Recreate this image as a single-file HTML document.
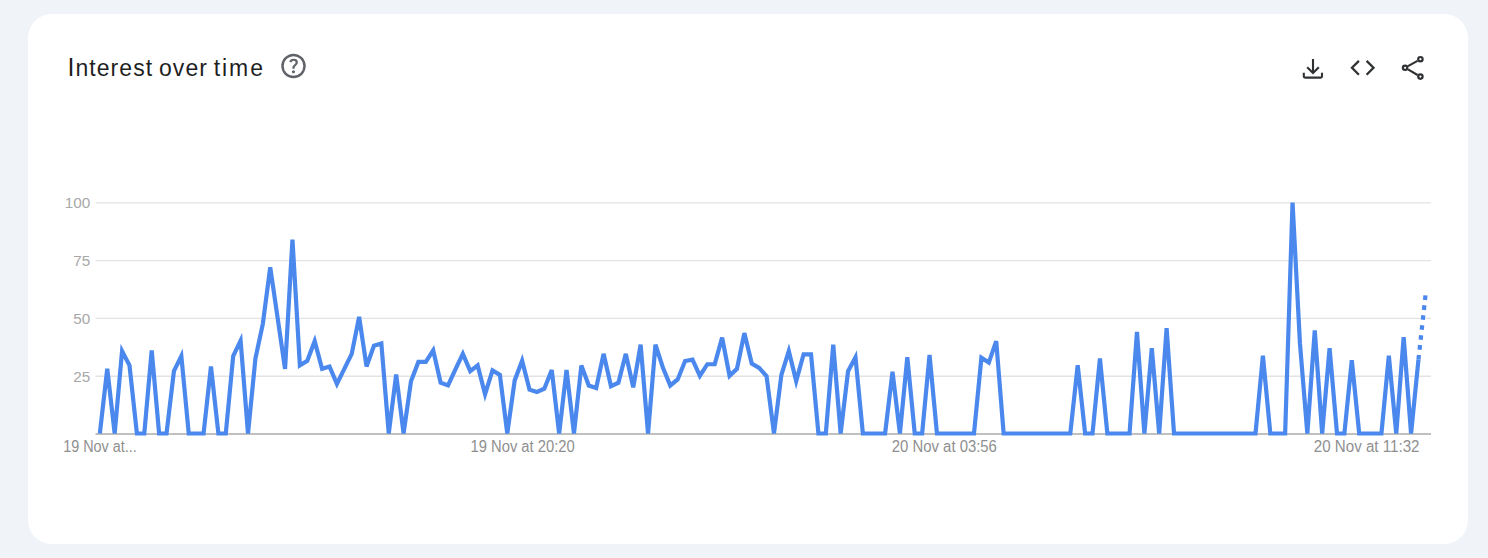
<!DOCTYPE html>
<html><head><meta charset="utf-8">
<style>
html,body{margin:0;padding:0;}
body{width:1488px;height:558px;background:#f0f4f9;position:relative;overflow:hidden;font-family:"Liberation Sans",Arial,sans-serif;}
.card{position:absolute;left:28px;top:14px;width:1440px;height:530px;background:#fff;border-radius:24px;}
.cap{font-size:25px;}
.title{position:absolute;left:67.5px;top:52px;font-size:23px;letter-spacing:1.05px;word-spacing:-1.6px;line-height:30px;color:#1f1f1f;white-space:nowrap;}
svg{position:absolute;left:0;top:0;}
.yl{font-size:15.3px;fill:#a8a8a8;}
.xl{font-size:16px;fill:#8f8f8f;}
</style></head><body>
<div class="card"></div>
<div class="title"><span class="cap">I</span>nterest over <span style="letter-spacing:1.9px">time</span></div>
<svg width="1488" height="558" viewBox="0 0 1488 558">
<svg x="278.8" y="51.3" width="29.4" height="29.4" viewBox="0 -960 960 960"><path fill="#5f6368" d="M478-240q21 0 35.5-14.5T528-290q0-21-14.5-35.5T478-340q-21 0-35.5 14.5T428-290q0 21 14.5 35.5T478-240Zm-36-154h74q0-33 7.5-52t42.5-52q26-26 41-49.5t15-56.5q0-56-41-86t-97-30q-57 0-92.5 30T342-618l66 26q5-18 22.5-39t53.5-21q32 0 48 17.5t16 38.5q0 20-12 37.5T506-526q-44 39-54 59t-10 73Zm38 314q-83 0-156-31.5T197-197q-54-54-85.5-127T80-480q0-83 31.5-156T197-763q54-54 127-85.5T480-880q83 0 156 31.5T763-763q54 54 85.5 127T880-480q0 83-31.5 156T763-197q-54 54-127 85.5T480-80Zm0-80q134 0 227-93t93-227q0-134-93-227t-227-93q-134 0-227 93t-93 227q0 134 93 227t227 93Z"/></svg>
<g fill="none" stroke="#2f3133" stroke-width="2.1">
<path d="M1313,59 V73.2 M1307.2,67.2 L1313,73 L1318.8,67.2"/>
<path d="M1303.8,72.8 V76.3 Q1303.8,77.6 1305.1,77.6 H1320.7 Q1322,77.6 1322,76.3 V72.8"/>
<path d="M1358.9,60.9 L1352,67.8 L1358.9,74.7 M1366.6,60.9 L1373.5,67.8 L1366.6,74.7" stroke-width="2.3"/>
<path d="M1408,66.2 L1417.5,60.8 M1408,69.4 L1417.5,75"/>
<circle cx="1420.4" cy="59.2" r="2.2" stroke-width="2.2"/>
<circle cx="1405.1" cy="67.8" r="2.2" stroke-width="2.2"/>
<circle cx="1420.4" cy="76.6" r="2.2" stroke-width="2.2"/>
</g>
<line x1="95.5" x2="1431" y1="376.23" y2="376.23" stroke="#e3e3e3" stroke-width="1.3"/>
<text x="90.3" y="381.62" text-anchor="end" class="yl">25</text>
<line x1="95.5" x2="1431" y1="318.45" y2="318.45" stroke="#e3e3e3" stroke-width="1.3"/>
<text x="90.3" y="323.85" text-anchor="end" class="yl">50</text>
<line x1="95.5" x2="1431" y1="260.68" y2="260.68" stroke="#e3e3e3" stroke-width="1.3"/>
<text x="90.3" y="266.07" text-anchor="end" class="yl">75</text>
<line x1="95.5" x2="1431" y1="202.90" y2="202.90" stroke="#e3e3e3" stroke-width="1.3"/>
<text x="90.3" y="208.30" text-anchor="end" class="yl">100</text>

<line x1="95.5" x2="1431" y1="434" y2="434" stroke="#ababab" stroke-width="1.3"/>
<path d="M99.85,433.50 L107.26,368.85 L114.67,433.50 L122.07,351.07 L129.48,365.38 L136.89,433.50 L144.30,433.50 L151.71,350.38 L159.11,433.50 L166.52,433.50 L173.93,371.16 L181.34,356.15 L188.75,433.50 L196.15,433.50 L203.56,433.50 L210.97,366.54 L218.38,433.50 L225.79,433.50 L233.19,356.15 L240.60,340.68 L248.01,433.50 L255.42,358.46 L262.83,323.82 L270.23,267.25 L277.64,318.05 L285.05,368.85 L292.46,239.54 L299.87,365.38 L307.27,360.77 L314.68,341.14 L322.09,368.85 L329.50,366.54 L336.91,383.86 L344.31,368.85 L351.72,353.84 L359.13,316.90 L366.54,366.54 L373.95,345.76 L381.35,343.45 L388.76,433.50 L396.17,374.39 L403.58,433.50 L410.99,381.32 L418.39,361.92 L425.80,361.92 L433.21,350.38 L440.62,382.70 L448.03,385.47 L455.43,369.31 L462.84,353.84 L470.25,371.16 L477.66,365.38 L485.07,394.25 L492.47,370.46 L499.88,374.85 L507.29,433.50 L514.70,380.39 L522.11,360.77 L529.51,389.63 L536.92,391.94 L544.33,388.71 L551.74,370.00 L559.15,433.50 L566.55,370.00 L573.96,433.50 L581.37,365.38 L588.78,385.47 L596.19,388.01 L603.59,353.84 L611.00,386.17 L618.41,382.70 L625.82,353.84 L633.23,387.32 L640.63,344.60 L648.04,433.50 L655.45,344.60 L662.86,367.46 L670.27,385.47 L677.67,379.47 L685.08,361.00 L692.49,359.61 L699.90,375.77 L707.31,364.23 L714.71,364.23 L722.12,337.68 L729.53,375.77 L736.94,368.85 L744.35,333.06 L751.75,363.54 L759.16,367.92 L766.57,376.24 L773.98,433.50 L781.39,374.85 L788.79,351.07 L796.20,381.09 L803.61,354.30 L811.02,354.30 L818.43,433.50 L825.83,433.50 L833.24,344.60 L840.65,433.50 L848.06,371.16 L855.47,357.30 L862.87,433.50 L870.28,433.50 L877.69,433.50 L885.10,433.50 L892.51,371.85 L899.91,433.50 L907.32,357.30 L914.73,433.50 L922.14,433.50 L929.55,354.99 L936.95,433.50 L944.36,433.50 L951.77,433.50 L959.18,433.50 L966.59,433.50 L973.99,433.50 L981.40,357.76 L988.81,362.61 L996.22,341.14 L1003.63,433.50 L1011.03,433.50 L1018.44,433.50 L1025.85,433.50 L1033.26,433.50 L1040.67,433.50 L1048.07,433.50 L1055.48,433.50 L1062.89,433.50 L1070.30,433.50 L1077.71,365.15 L1085.11,433.50 L1092.52,433.50 L1099.93,358.46 L1107.34,433.50 L1114.75,433.50 L1122.15,433.50 L1129.56,433.50 L1136.97,331.90 L1144.38,433.50 L1151.79,348.07 L1159.19,433.50 L1166.60,328.21 L1174.01,433.50 L1181.42,433.50 L1188.83,433.50 L1196.23,433.50 L1203.64,433.50 L1211.05,433.50 L1218.46,433.50 L1225.87,433.50 L1233.27,433.50 L1240.68,433.50 L1248.09,433.50 L1255.50,433.50 L1262.91,355.69 L1270.31,433.50 L1277.72,433.50 L1285.13,433.50 L1292.54,202.60 L1299.95,343.45 L1307.35,433.50 L1314.76,330.52 L1322.17,433.50 L1329.58,348.30 L1336.99,433.50 L1344.39,433.50 L1351.80,360.30 L1359.21,433.50 L1366.62,433.50 L1374.03,433.50 L1381.43,433.50 L1388.84,355.69 L1396.25,433.50 L1403.66,337.21 L1411.07,433.50 L1418.47,359.61" fill="none" stroke="#4a88ee" stroke-width="4.2" stroke-linejoin="miter"/>
<path d="M1418.47,359.61 L1425.88,291.73" fill="none" stroke="#4a88ee" stroke-width="4.2" stroke-dasharray="4.6 5.4"/>
<text x="63.20" y="451.6" textLength="73.5" lengthAdjust="spacingAndGlyphs" class="xl">19 Nov at...</text>
<text x="470.50" y="451.6" textLength="104.2" lengthAdjust="spacingAndGlyphs" class="xl">19 Nov at 20:20</text>
<text x="891.80" y="451.6" textLength="105.1" lengthAdjust="spacingAndGlyphs" class="xl">20 Nov at 03:56</text>
<text x="1313.80" y="451.6" textLength="105.7" lengthAdjust="spacingAndGlyphs" class="xl">20 Nov at 11:32</text>

</svg>
</body></html>
